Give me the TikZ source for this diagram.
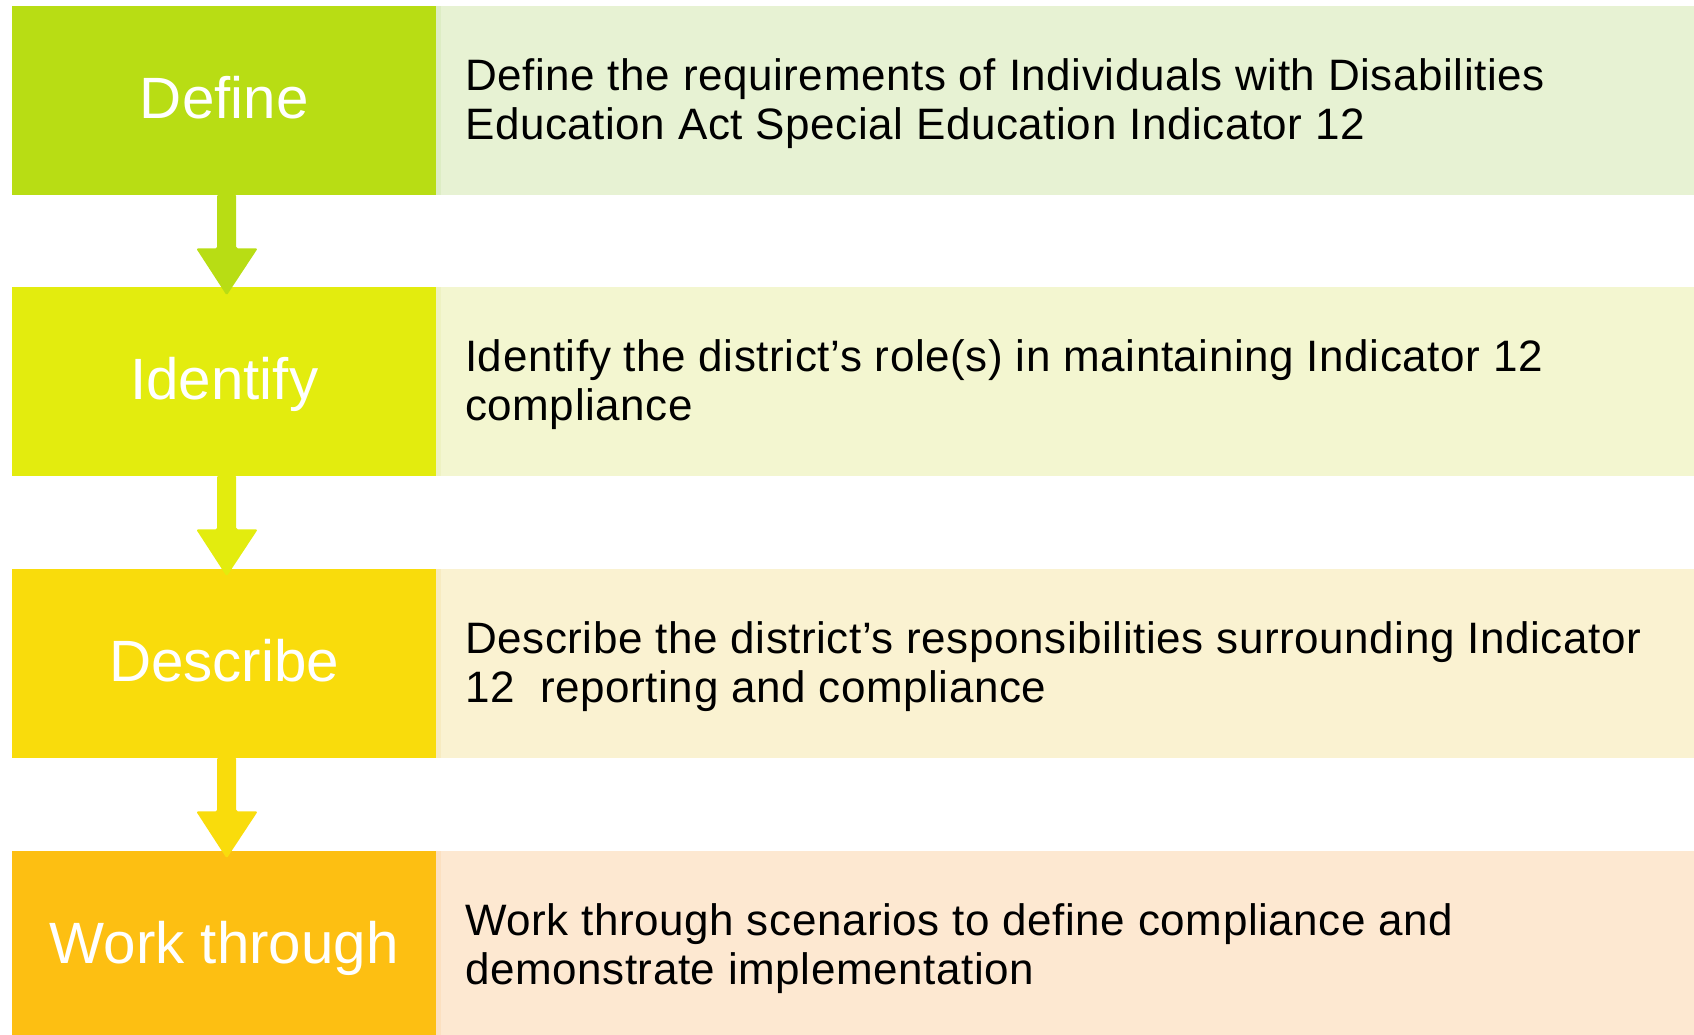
\documentclass[tikz,border=0pt]{standalone}
\usepackage{fontspec}
\setmainfont{Liberation Sans}
\newfontfamily\descfont[LetterSpace=1.3]{Liberation Sans}
\usetikzlibrary{calc}
\definecolor{cA}{HTML}{B8DD14}
\definecolor{cB}{HTML}{E3EC0E}
\definecolor{cC}{HTML}{F9DC0C}
\definecolor{cD}{HTML}{FDBF12}
\definecolor{pA}{HTML}{E7F2D3}
\definecolor{pB}{HTML}{F3F6D0}
\definecolor{pC}{HTML}{FAF2D1}
\definecolor{pD}{HTML}{FDE8D1}
\definecolor{sA}{HTML}{DDEDC4}
\definecolor{sB}{HTML}{EEF2C2}
\definecolor{sC}{HTML}{F7EBC0}
\definecolor{sD}{HTML}{FCE0C0}
\tikzset{
  titlebox/.style={rectangle, inner sep=0pt, minimum width=424pt, minimum height=189pt,
    text height=35pt, text depth=0pt,
    text=white, font=\fontsize{58.3}{64}\selectfont},
  panelbox/.style={rectangle, inner sep=0pt, minimum width=1258pt, minimum height=189pt},
  desc/.style={anchor=west, inner sep=0pt, align=left, text=black,
    font=\descfont\fontsize{44}{48.4}\selectfont},
}
\newcommand{\downarrowshape}[2]{%
  \coordinate (ac) at ($(#2.south)+(2.5,0)$);
  \fill[#1, rounded corners=1.5pt] ($(ac)+(-9.5,-1)$) -- ++(0,54) -- ++(-21,0)
     -- ($(ac)+(0,100)$) -- ($(ac)+(31,53)$) -- ++(-21.5,0) -- ($(ac)+(9.5,-1)$) -- cycle;}
\begin{document}
\begin{tikzpicture}[x=1pt,y=-1pt]
\useasboundingbox (0,0) rectangle (1694,1035);
\clip (0,0) rectangle (1694,1035);
% rows
\foreach \i/\y/\pc/\sc in {1/6/pA/sA,2/287/pB/sB,3/569/pC/sC,4/851/pD/sD}{
  \node[panelbox, fill=\pc, anchor=north west] (p\i) at (436,\y) {};
  \fill[\sc] (436,\y) rectangle (441,\y+189);
}
\node[titlebox, fill=cA, anchor=north west] (t1) at (12,6) {Define};
\node[titlebox, fill=cB, anchor=north west] (t2) at (12,287) {Identify};
\node[titlebox, fill=cC, anchor=north west] (t3) at (12,569) {Describe};
\node[titlebox, fill=cD, anchor=north west] (t4) at (12,851) {Work through};
% descriptions
\node[desc] (d1) at ($(p1.west)+(29,3)$) {Define the requirements of Individuals with Disabilities\\Education Act Special Education Indicator 12};
\node[desc] (d2) at ($(p2.west)+(29,3)$) {Identify the district’s role(s) in maintaining Indicator 12\\compliance};
\node[desc] (d3) at ($(p3.west)+(29,3)$) {Describe the district’s responsibilities surrounding Indicator\\12\ \ reporting and compliance};
\node[desc] (d4) at ($(p4.west)+(29,3)$) {Work through scenarios to define compliance and\\demonstrate implementation};
% arrows
\downarrowshape{cA}{t1}
\downarrowshape{cB}{t2}
\downarrowshape{cC}{t3}
\end{tikzpicture}
\end{document}
